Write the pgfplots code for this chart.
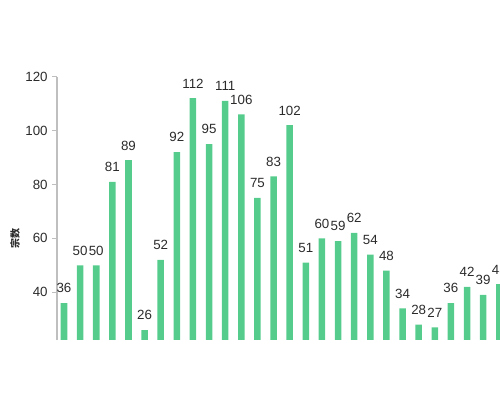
\documentclass[border=0pt]{standalone}
\usepackage{pgfplots}
\pgfplotsset{compat=1.18}
\usepackage{fontspec}
\setmainfont{Liberation Sans}
\newfontfamily\cjk{Noto Sans CJK SC}
\definecolor{bargreen}{HTML}{55CC8C}
\definecolor{axisgray}{HTML}{BFBFBF}
\definecolor{txt}{HTML}{2B2B2B}

\begin{document}
\begin{tikzpicture}
\useasboundingbox (0,0) rectangle (375pt,300pt);
\clip (0,0) rectangle (375pt,300pt);
\begin{axis}[
  at={(42.75pt,45pt)}, anchor=south west,
  scale only axis, width=343.8pt, height=197.5pt,
  xmin=-0.434, xmax=28, ymin=22.3, ymax=120,
  axis x line=none,
  axis y line*=left,
  y axis line style={draw=axisgray, line width=0.8pt, -},
  ytick={40,60,80,100,120},
  tick align=outside,
  major tick length=3.5pt,
  ytick style={draw=axisgray, line width=0.6pt},
  yticklabel style={font=\fontsize{10}{12}\selectfont, text=txt},
  /pgf/number format/assume math mode=true,
  ylabel={\cjk 宗数},
  ylabel style={at={(axis description cs:-0.0916,0.387)}, anchor=center, font=\fontsize{7.5}{9}\selectfont\bfseries, text=txt},
  ybar, bar width=4.9pt,
  nodes near coords,
  every node near coord/.append style={font=\fontsize{10}{12}\selectfont, text=txt, yshift=4pt},
]
\addplot[fill=bargreen, draw=none] coordinates {
  (0,36) (1,50) (2,50) (3,81) (4,89) (5,26) (6,52) (7,92) (8,112) (9,95)
  (10,111) (11,106) (12,75) (13,83) (14,102) (15,51) (16,60) (17,59) (18,62) (19,54)
  (20,48) (21,34) (22,28) (23,27) (24,36) (25,42) (26,39) (27,43)
};
\end{axis}
\end{tikzpicture}
\end{document}
